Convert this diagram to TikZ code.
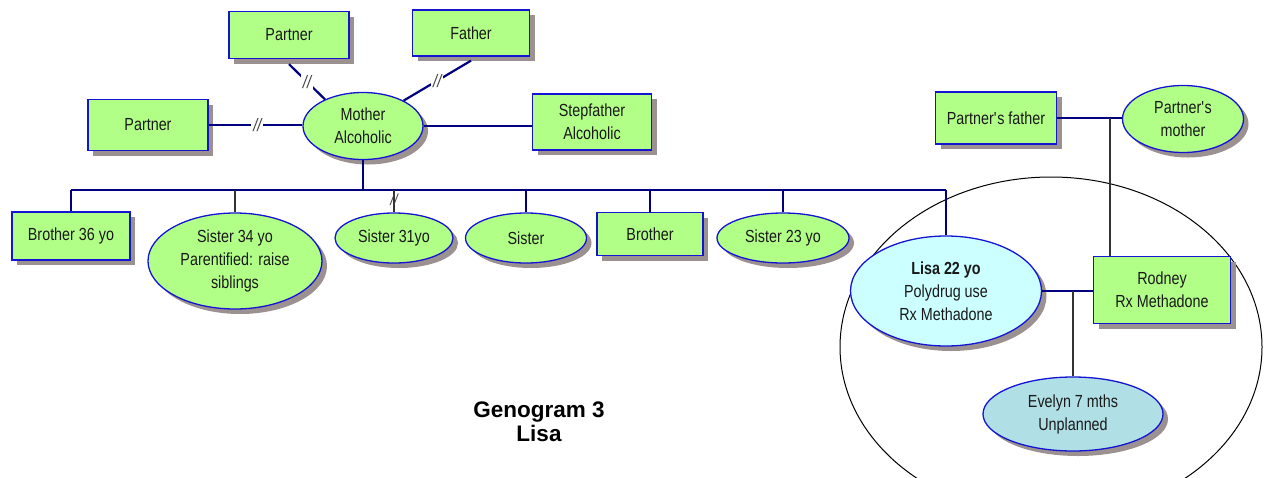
\documentclass[tikz,border=0pt]{standalone}
\usepackage{fontspec}
\setmainfont{Liberation Sans}[FakeStretch=0.82]
\newfontfamily\captionfont{Liberation Sans}
\usetikzlibrary{shapes.geometric,shadows}

\definecolor{nodegreen}{HTML}{B2FF88}
\definecolor{nodeblue}{HTML}{1414D2}
\definecolor{linknavy}{HTML}{000080}
\definecolor{lisafill}{HTML}{CCFFFF}
\definecolor{babyfill}{HTML}{B0E0E6}
\definecolor{shadegray}{HTML}{9C9191}
\definecolor{marktext}{HTML}{404040}

\tikzset{
  person/.style={draw=nodeblue, line width=1.3pt, fill=nodegreen, inner sep=0pt,
    align=center, text=black!90,
    font=\fontsize{17.5}{23}\selectfont,
    drop shadow={shadow xshift=5pt, shadow yshift=-5pt, fill=shadegray, opacity=1}},
  male/.style={person, rectangle},
  female/.style={person, ellipse},
  link/.style={draw=linknavy, line width=2.2pt},
  kinline/.style={draw=black!80, line width=1.1pt},
  breakmark/.style={fill=white, inner sep=2pt, text=marktext,
    font=\fontsize{18}{20}\selectfont\itshape},
  title/.style={align=center, font=\captionfont\fontsize{22.5}{24}\selectfont\bfseries}
}

\begin{document}
\begin{tikzpicture}[x=1pt, y=-1pt]
\useasboundingbox (0,0) rectangle (1268,477);
\clip (0,0) rectangle (1268,477);

% household circle around Lisa, Rodney and Evelyn
\node[draw=black, line width=1pt, ellipse, minimum width=422pt, minimum height=340pt,
      inner sep=0pt] (home) at (1051,347) {};

% parents' generation
\node[female, minimum width=120pt, minimum height=67pt] (mother) at (363,126) {Mother\\Alcoholic};
\node[male, minimum width=120pt, minimum height=51pt] (partnerL) at (148,125) {Partner};
\node[male, minimum width=120pt, minimum height=47pt] (partnerT) at (289,35) {Partner};
\node[male, minimum width=117pt, minimum height=46pt] (father) at (471,33) {Father};
\node[male, minimum width=119pt, minimum height=56pt] (stepfather) at (592,122) {Stepfather\\Alcoholic};

% partner's parents
\node[male, minimum width=121pt, minimum height=52pt] (pfather) at (996,118) {Partner\textquotesingle s father};
\node[female, minimum width=121pt, minimum height=67pt] (pmother) at (1183,119) {Partner\textquotesingle s\\mother};

% siblings
\node[male, minimum width=118pt, minimum height=48pt] (bro36) at (71,236) {Brother 36 yo};
\node[female, minimum width=174pt, minimum height=96pt] (sis34) at (235,261) {Sister 34 yo\\Parentified: raise\\siblings};
\node[female, minimum width=118pt, minimum height=50pt] (sis31) at (394,238) {Sister 31yo};
\node[female, minimum width=121pt, minimum height=50pt] (sis) at (526,238) {Sister};
\node[male, minimum width=106pt, minimum height=43pt] (bro) at (650,234) {Brother};
\node[female, minimum width=132pt, minimum height=50pt] (sis23) at (783,238) {Sister 23 yo};

% Lisa's family
\node[female, fill=lisafill, minimum width=191pt, minimum height=110pt] (lisa) at (946,291)
  {\textbf{Lisa 22 yo}\\Polydrug use\\Rx Methadone};
\node[male, minimum width=137pt, minimum height=67pt] (rodney) at (1162,290) {Rodney\\Rx Methadone};
\node[female, fill=babyfill, minimum width=180pt, minimum height=74pt] (evelyn) at (1073,414)
  {Evelyn 7 mths\\Unplanned};

% sibship bar and junction on the partner's parents' line
\coordinate (bar) at (0,190);
\coordinate (pjoin) at (1110,0);

% mother's relationships
\draw[link] (partnerL.east) -- node[breakmark, pos=0.52] {//} (partnerL.east -| mother.west);
\draw[link] ([yshift=-5pt]partnerT.south) -- node[breakmark] {//} (mother.145);
\draw[link] ([yshift=-4pt]father.south) -- node[breakmark] {//} (mother.32);
\draw[link] (stepfather.west |- mother.east) -- (mother.east);

% children of the mother
\draw[link] (mother.south) -- (mother.south |- bar);
\draw[link] (bro36.north |- bar) -- (lisa.north |- bar);
\draw[link] (bro36.north) -- (bro36.north |- bar);
\draw[kinline] (sis34.north) -- (sis34.north |- bar);
\draw[kinline] (sis31.north) -- (sis31.north |- bar);
\node[text=marktext, inner sep=0pt, font=\fontsize{16}{18}\selectfont\itshape] (mark31) at (394,200) {//};
\draw[link] (sis.north) -- (sis.north |- bar);
\draw[link] (bro.north) -- (bro.north |- bar);
\draw[link] (sis23.north) -- (sis23.north |- bar);
\draw[link] (lisa.north) -- (lisa.north |- bar);

% Rodney's parents
\draw[link] (pfather.east) -- (pfather.east -| pmother.west);
\draw[kinline] (pjoin |- pfather.east) -- (pjoin |- rodney.north);

% Lisa and Rodney, and their daughter
\draw[link] (lisa.east) -- (lisa.east -| rodney.west);
\draw[kinline] (evelyn.north) -- (evelyn.north |- lisa.east);

% caption
\node[title] (caption) at (539,422) {Genogram 3\\Lisa};
\end{tikzpicture}
\end{document}
